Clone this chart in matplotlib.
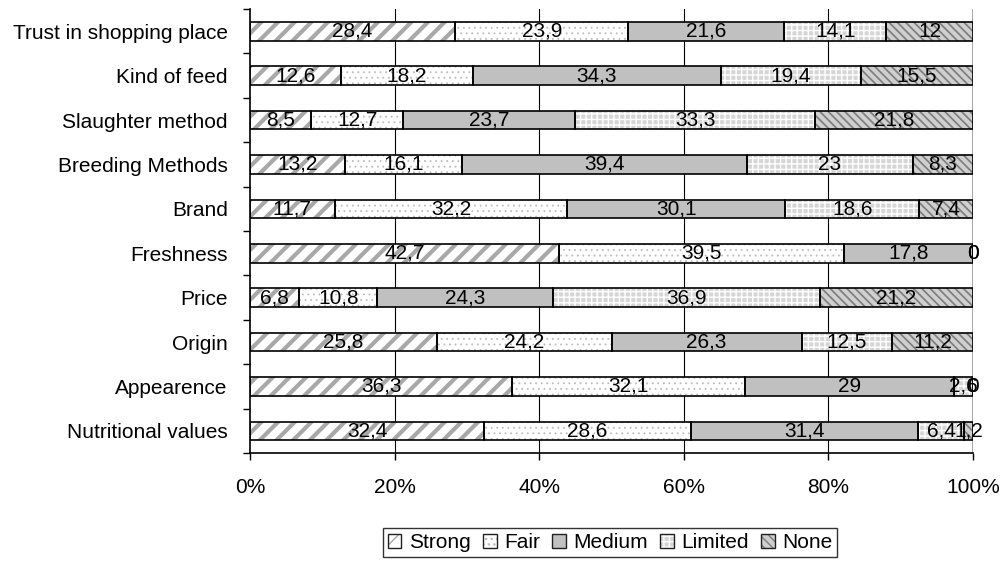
"""
stacked percentage bar chart - importance of factors
"""

import numpy as np
import matplotlib
matplotlib.use("Agg")
import matplotlib.pyplot as plt
from matplotlib.patches import Patch
from matplotlib.legend_handler import HandlerTuple

categories = ["Nutritional values", "Appearence", "Origin", "Price", "Freshness",
              "Brand", "Breeding Methods", "Slaughter method", "Kind of feed",
              "Trust in shopping place"]
series = ["Strong", "Fair", "Medium", "Limited", "None"]

strong = [32.4, 36.3, 25.8, 6.8, 42.7, 11.7, 13.2, 8.5, 12.6, 28.4]
fair = [28.6, 32.1, 24.2, 10.8, 39.5, 32.2, 16.1, 12.7, 18.2, 23.9]
medium = [31.4, 29.0, 26.3, 24.3, 17.8, 30.1, 39.4, 23.7, 34.3, 21.6]
limited = [6.4, 2.6, 12.5, 36.9, 0.0, 18.6, 23.0, 33.3, 19.4, 14.1]
none = [1.2, 0.0, 11.2, 21.2, 0.0, 7.4, 8.3, 21.8, 15.5, 12.0]

xticks = [0, 20, 40, 60, 80, 100]

# face, hatch, hatch colour, hatch linewidth
styles = [
    ("white", "//", "#a8a8a8", 3.0),
    ("white", "...", "#bcbcbc", 0.6),
    ("#c0c0c0", None, "#c0c0c0", 1.0),
    ("#d6d6d6", "+++", "white", 1.0),
    ("#cfcfcf", "\\\\\\\\", "#7c7c7c", 1.2),
]


def fmt(v):
    if float(v).is_integer():
        return str(int(v))
    return ("%.1f" % v).replace(".", ",")


if __name__ == '__main__':
    plt.rcParams['font.family'] = ['Liberation Sans', 'DejaVu Sans']
    fs = 15

    fig, ax = plt.subplots(figsize=(10, 5.67), dpi=100)
    fig.subplots_adjust(left=0.25, right=0.973, bottom=0.201, top=0.984)

    y = np.arange(len(categories))
    h = 0.42
    left = np.zeros(len(categories))
    data = [strong, fair, medium, limited, none]
    handles = []
    for i, vals in enumerate(data):
        vals = np.array(vals)
        face, hatch, hcol, hlw = styles[i]
        with plt.rc_context({'hatch.linewidth': hlw}):
            bars = ax.barh(y, vals, left=left, height=h, color=face, hatch=hatch,
                           edgecolor=hcol, linewidth=0, zorder=2)
            p1 = Patch(facecolor=face, hatch=hatch, edgecolor=hcol, linewidth=0)
        for b in bars:
            if hasattr(b, "set_hatch_linewidth"):
                b.set_hatch_linewidth(hlw)
        if hasattr(p1, "set_hatch_linewidth"):
            p1.set_hatch_linewidth(hlw)
        ax.barh(y, vals, left=left, height=h, fill=False, edgecolor="black",
                linewidth=1.2, zorder=3)
        p2 = Patch(fill=False, edgecolor="#202020", linewidth=1)
        handles.append((p1, p2))
        for k in range(len(categories)):
            ax.text(left[k] + vals[k] / 2, y[k], fmt(vals[k]), ha="center",
                    va="center", fontsize=fs, zorder=4)
        left += vals

    ax.set_xlim(0, 100)
    ax.set_ylim(-0.5, len(categories) - 0.5)

    for g in xticks[1:-1]:
        ax.axvline(g, color="black", linewidth=0.8, zorder=1)
    ax.axvline(100, color="#a0a0a0", linewidth=2, zorder=1)

    ax.set_xticks(xticks)
    ax.set_xticklabels([f"{t}%" for t in xticks], fontsize=fs)
    ax.set_yticks(y)
    ax.set_yticklabels(categories, fontsize=fs)
    ax.set_yticks(np.arange(len(categories) + 1) - 0.5, minor=True)
    ax.tick_params(axis="y", which="major", length=0, pad=16)
    ax.tick_params(axis="y", which="minor", length=5, width=1)
    ax.tick_params(axis="x", length=5, width=1, pad=13)

    for s in ["top", "right"]:
        ax.spines[s].set_visible(False)
    ax.spines["left"].set_linewidth(1.2)
    ax.spines["bottom"].set_linewidth(1.2)

    leg = fig.legend(handles, series, loc="upper center", ncol=5,
                     bbox_to_anchor=(0.61, 0.069),
                     handler_map={tuple: HandlerTuple(ndivide=1)},
                     fontsize=fs, frameon=True, fancybox=False,
                     handlelength=0.65, handleheight=0.65, handletextpad=0.35,
                     columnspacing=0.6, borderpad=0.25, borderaxespad=0)
    leg.get_frame().set_edgecolor("black")
    leg.get_frame().set_linewidth(1)

    fig.savefig("out.png", dpi=100)
